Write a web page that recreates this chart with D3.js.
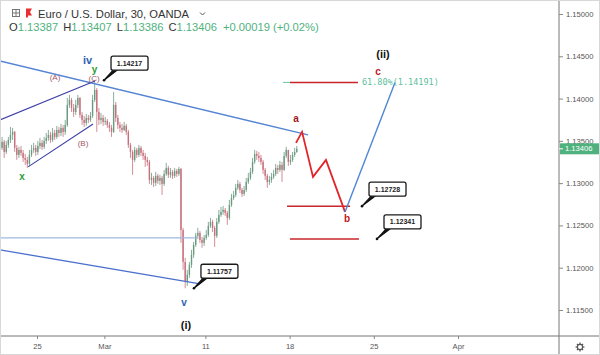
<!DOCTYPE html>
<html>
<head>
<meta charset="utf-8">
<script src="https://cdn.jsdelivr.net/npm/d3@7"></script>
<style>
  body { margin: 0; background: #fff; }
  svg { display: block; font-family: "Liberation Sans", Arial, sans-serif; }
</style>
</head>
<body>
<svg id="chart" width="600" height="355"></svg>
<script>
'use strict';

var firstOpen = 1.13440;
var closes = [
  1.13417, 1.13488, 1.13369, 1.13452, 1.13511, 1.13570, 1.13606, 1.13417, 1.13334, 1.13393,
  1.13358, 1.13298, 1.13275, 1.13228, 1.13334, 1.13393, 1.13417, 1.13369, 1.13440, 1.13476,
  1.13429, 1.13499, 1.13535, 1.13570, 1.13511, 1.13594, 1.13547, 1.13629, 1.13594, 1.13653,
  1.13606, 1.13688, 1.13925, 1.13984, 1.13889, 1.13842, 1.13925, 1.14007, 1.13807, 1.13748,
  1.13712, 1.13771, 1.13748, 1.13795, 1.13984, 1.14102, 1.13842, 1.13748, 1.13771, 1.13724,
  1.13736, 1.13688, 1.13653, 1.13606, 1.13925, 1.13771, 1.13688, 1.13653, 1.13629, 1.13677,
  1.13606, 1.13452, 1.13369, 1.13275, 1.13393, 1.13334, 1.13417, 1.13358, 1.13322, 1.13275,
  1.13251, 1.13038, 1.13062, 1.13003, 1.13086, 1.13027, 1.13062, 1.12991, 1.13109, 1.13180,
  1.13098, 1.13133, 1.13086, 1.13145, 1.13109, 1.13168, 1.12447, 1.12069, 1.11833, 1.11916,
  1.12034, 1.12152, 1.12270, 1.12377, 1.12412, 1.12329, 1.12294, 1.12353, 1.12388, 1.12495,
  1.12542, 1.12471, 1.12377, 1.12542, 1.12625, 1.12660, 1.12684, 1.12648, 1.12589, 1.12743,
  1.12826, 1.12861, 1.12944, 1.12991, 1.12920, 1.12873, 1.12920, 1.13015, 1.13062, 1.13133,
  1.13251, 1.13346, 1.13322, 1.13298, 1.13251, 1.13157, 1.13086, 1.13015, 1.13038, 1.13074,
  1.13109, 1.13180, 1.13157, 1.13216, 1.13157, 1.13322, 1.13393, 1.13251, 1.13275, 1.13334,
  1.13369, 1.13406
];
var highs = [
  1.13511, 1.13547, 1.13511, 1.13499, 1.13547, 1.13665, 1.13653, 1.13617, 1.13452, 1.13429,
  1.13440, 1.13393, 1.13346, 1.13310, 1.13393, 1.13452, 1.13476, 1.13452, 1.13499, 1.13535,
  1.13511, 1.13547, 1.13594, 1.13629, 1.13606, 1.13653, 1.13629, 1.13677, 1.13665, 1.13700,
  1.13688, 1.13748, 1.14007, 1.14043, 1.14007, 1.13936, 1.13984, 1.14043, 1.14019, 1.13842,
  1.13795, 1.13818, 1.13807, 1.13842, 1.14043, 1.14217, 1.14125, 1.13889, 1.13830, 1.13807,
  1.13783, 1.13759, 1.13724, 1.13688, 1.14078, 1.13960, 1.13807, 1.13724, 1.13700, 1.13724,
  1.13700, 1.13629, 1.13476, 1.13393, 1.13429, 1.13417, 1.13452, 1.13440, 1.13393, 1.13358,
  1.13310, 1.13275, 1.13121, 1.13086, 1.13133, 1.13109, 1.13098, 1.13086, 1.13157, 1.13239,
  1.13204, 1.13180, 1.13157, 1.13180, 1.13168, 1.13192, 1.13180, 1.12471, 1.12116, 1.11975,
  1.12069, 1.12211, 1.12305, 1.12412, 1.12471, 1.12435, 1.12365, 1.12388, 1.12447, 1.12542,
  1.12589, 1.12566, 1.12495, 1.12589, 1.12684, 1.12719, 1.12731, 1.12707, 1.12672, 1.12802,
  1.12873, 1.12908, 1.12991, 1.13038, 1.13015, 1.12944, 1.12967, 1.13062, 1.13121, 1.13180,
  1.13298, 1.13393, 1.13381, 1.13369, 1.13334, 1.13275, 1.13180, 1.13109, 1.13086, 1.13121,
  1.13157, 1.13228, 1.13216, 1.13263, 1.13251, 1.13369, 1.13429, 1.13393, 1.13334, 1.13369,
  1.13417, 1.13440
];
var lows = [
  1.13334, 1.13393, 1.13298, 1.13346, 1.13417, 1.13476, 1.13511, 1.13369, 1.13275, 1.13298,
  1.13322, 1.13251, 1.13216, 1.13180, 1.13204, 1.13310, 1.13358, 1.13322, 1.13334, 1.13405,
  1.13393, 1.13405, 1.13464, 1.13499, 1.13476, 1.13488, 1.13511, 1.13523, 1.13547, 1.13558,
  1.13547, 1.13570, 1.13665, 1.13889, 1.13842, 1.13783, 1.13807, 1.13889, 1.13771, 1.13688,
  1.13665, 1.13677, 1.13712, 1.13724, 1.13771, 1.13960, 1.13606, 1.13688, 1.13700, 1.13677,
  1.13688, 1.13653, 1.13606, 1.13547, 1.13594, 1.13724, 1.13641, 1.13606, 1.13594, 1.13617,
  1.13570, 1.13417, 1.13298, 1.13098, 1.13251, 1.13298, 1.13310, 1.13322, 1.13275, 1.13192,
  1.13204, 1.12991, 1.12979, 1.12955, 1.12967, 1.12991, 1.12979, 1.12861, 1.12967, 1.13086,
  1.13062, 1.13062, 1.13050, 1.13062, 1.13074, 1.13086, 1.12294, 1.11975, 1.11757, 1.11785,
  1.11880, 1.11998, 1.12116, 1.12246, 1.12341, 1.12294, 1.12235, 1.12258, 1.12329, 1.12365,
  1.12471, 1.12423, 1.12246, 1.12353, 1.12518, 1.12601, 1.12625, 1.12613, 1.12507, 1.12566,
  1.12719, 1.12802, 1.12837, 1.12920, 1.12884, 1.12837, 1.12849, 1.12896, 1.12991, 1.13038,
  1.13109, 1.13228, 1.13275, 1.13251, 1.13216, 1.13109, 1.13038, 1.12944, 1.12979, 1.13003,
  1.13050, 1.13086, 1.13109, 1.13133, 1.13015, 1.13145, 1.13298, 1.13204, 1.13216, 1.13251,
  1.13310, 1.13358
];
var firstBarDay = -2.2;   // trading days counted from Mon 25 Feb
var barsPerDay = 8;

var priceTicks = [1.115, 1.12, 1.125, 1.13, 1.135, 1.14, 1.145, 1.15];
var dateTickDays = [0, 4, 10, 15, 20, 25];
var dateTickLabels = ['25', 'Mar', '11', '18', '25', 'Apr'];

var lastPrice = 1.13406;
var ohlcLabels = ['O', 'H', 'L', 'C'];
var ohlcValues = ['1.13387', '1.13407', '1.13386', '1.13406'];
var changeText = '+0.00019 (+0.02%)';

// chart drawings, as [trading day, price]
var resistanceLine = [[-2.2, 1.14445], [16.09, 1.13570]];
var wedgeUpper = [[-2.2, 1.13748], [3.44, 1.14208]];
var wedgeLower = [[-0.53, 1.13192], [3.33, 1.13700]];
var supportLine = [[-2.2, 1.12211], [9.68, 1.11809]];
var flatLine = [[-2.2, 1.12353], [9.5, 1.12353]];
var abcPath = [[15.38, 1.13476], [15.74, 1.13606], [16.39, 1.13074], [17.16, 1.13275], [18.29, 1.12660]];
var cPath = [[18.29, 1.12660], [21.26, 1.14191]];
var fibLevel = 1.14191;
var targetLevels = [
  { from: 14.85, to: 18.59, price: 1.12728 },
  { from: 15.02, to: 19.12, price: 1.12341 },
  { from: 15.02, to: 19.06, price: 1.14191 }
];
var calloutPrices = [
  { day: 3.98, price: 1.14217 },
  { day: 9.32, price: 1.11757 },
  { day: 19.30, price: 1.12728 },
  { day: 20.19, price: 1.12341 }
];
var waveLabels = [
  { t: 'iv', day: 3.0, price: 1.14460, color: '#2f62b4', size: 11 },
  { t: 'y', day: 3.42, price: 1.14338, color: '#2c9c3c', size: 10 },
  { t: '(C)', day: 3.39, price: 1.14235, color: '#a35a68', size: 8 },
  { t: '(A)', day: 1.07, price: 1.14251, color: '#a35a68', size: 8 },
  { t: '(B)', day: 2.73, price: 1.13476, color: '#a35a68', size: 8 },
  { t: 'x', day: -0.89, price: 1.13074, color: '#2c9c3c', size: 10 },
  { t: 'v', day: 8.73, price: 1.11585, color: '#2f62b4', size: 10 },
  { t: '(i)', day: 8.85, price: 1.11320, color: '#111', size: 11 },
  { t: 'a', day: 15.38, price: 1.13759, color: '#a01818', size: 10 },
  { t: 'b', day: 18.41, price: 1.12577, color: '#c0161c', size: 10 },
  { t: 'c', day: 20.25, price: 1.14315, color: '#c0161c', size: 10 },
  { t: '(ii)', day: 20.55, price: 1.14527, color: '#111', size: 11 }
];

var svg = d3.select('#chart');
var plotRight = 559, plotBottom = 336;

var x = d3.scaleLinear().domain([0, 25]).range([37, 458]);
var y = d3.scaleLinear().domain([1.115, 1.15]).range([310, 14]);

svg.append('defs').append('clipPath').attr('id', 'plot')
  .append('rect').attr('x', 0).attr('y', 0).attr('width', plotRight).attr('height', plotBottom);

var plot = svg.append('g').attr('clip-path', 'url(#plot)');

var bars = closes.map(function (c, i) {
  return {
    day: firstBarDay + i / barsPerDay,
    o: i ? closes[i - 1] : firstOpen,
    c: c, h: highs[i], l: lows[i]
  };
});
var upColor = '#6a9a80', downColor = '#c7707c';

var candle = plot.append('g').selectAll('g').data(bars).enter().append('g');
candle.append('line')
  .attr('x1', function (d) { return x(d.day); })
  .attr('x2', function (d) { return x(d.day); })
  .attr('y1', function (d) { return y(d.h); })
  .attr('y2', function (d) { return y(d.l); })
  .attr('stroke', function (d) { return d.c >= d.o ? upColor : downColor; })
  .attr('stroke-width', 0.8);
candle.append('rect')
  .attr('x', function (d) { return x(d.day) - 0.7; })
  .attr('width', 1.4)
  .attr('y', function (d) { return y(Math.max(d.o, d.c)); })
  .attr('height', function (d) { return Math.max(0.8, Math.abs(y(d.o) - y(d.c))); })
  .attr('fill', function (d) { return d.c >= d.o ? upColor : downColor; });

var line = d3.line().x(function (p) { return x(p[0]); }).y(function (p) { return y(p[1]); });
function drawLine(points, color, width) {
  plot.append('path').attr('d', line(points)).attr('fill', 'none')
    .attr('stroke', color).attr('stroke-width', width);
}

drawLine(flatLine, '#9db7e2', 1.2);
drawLine(resistanceLine, '#5584d4', 1.4);
drawLine(supportLine, '#4a6fcc', 1.3);
drawLine(wedgeUpper, '#3d3fa6', 1.1);
drawLine(wedgeLower, '#3d3fa6', 1.1);

targetLevels.forEach(function (lv) {
  drawLine([[lv.from, lv.price], [lv.to, lv.price]], '#c8262a', 1.5);
});
drawLine([[14.61, fibLevel], [15.02, fibLevel]], '#6cc4a8', 1);
drawLine(abcPath, '#e0262a', 1.8);
drawLine(cPath, '#4f86d6', 1.4);

plot.append('text')
  .attr('x', x(19.3)).attr('y', y(fibLevel)).attr('dy', '0.35em')
  .attr('font-family', '"DejaVu Sans Mono", monospace').attr('font-size', 8.5)
  .attr('fill', '#5cc0a0').text('61.80%(' + fibLevel.toFixed(5) + ')');

plot.selectAll('text.wave').data(waveLabels).enter().append('text')
  .attr('class', 'wave')
  .attr('x', function (d) { return x(d.day); })
  .attr('y', function (d) { return y(d.price); })
  .attr('dy', '0.35em').attr('text-anchor', 'middle')
  .attr('font-weight', function (d) { return d.size > 8 ? 'bold' : 'normal'; })
  .attr('font-size', function (d) { return d.size; })
  .attr('fill', function (d) { return d.color; })
  .text(function (d) { return d.t; });

// price callouts
var callout = plot.selectAll('g.callout').data(calloutPrices).enter().append('g').attr('class', 'callout')
  .attr('transform', function (d) { return 'translate(' + x(d.day) + ',' + y(d.price) + ')'; });
callout.append('path').attr('d', 'M0,0 L10,-11 L13,-10 Z').attr('fill', '#111').attr('stroke', '#111').attr('stroke-width', 1.2);
callout.append('circle').attr('r', 1.3).attr('fill', '#111');
callout.append('rect').attr('x', 7).attr('y', -24).attr('width', 37).attr('height', 14).attr('rx', 2)
  .attr('fill', '#fff').attr('stroke', '#1a1a1a').attr('stroke-width', 1.3);
callout.append('text').attr('x', 25.5).attr('y', -17).attr('dy', '0.35em').attr('text-anchor', 'middle')
  .attr('font-size', 7).attr('font-weight', 'bold').attr('fill', '#222')
  .text(function (d) { return d.price.toFixed(5); });

// axes
var yAxis = d3.axisRight(y).tickValues(priceTicks).tickSize(4).tickPadding(3)
  .tickFormat(function (d) { return d.toFixed(5); });
var yg = svg.append('g').attr('transform', 'translate(' + plotRight + ',0)').call(yAxis);
yg.select('.domain').attr('d', 'M0,0V355').attr('stroke', '#777');
yg.selectAll('.tick line').attr('stroke', '#888');
yg.selectAll('.tick text').attr('font-size', 7.6).attr('fill', '#555').attr('font-family', '"Liberation Sans", Arial, sans-serif');

var xAxis = d3.axisBottom(x).tickValues(dateTickDays).tickSize(3).tickPadding(5)
  .tickFormat(function (d, i) { return dateTickLabels[i]; });
var xg = svg.append('g').attr('transform', 'translate(0,' + plotBottom + ')').call(xAxis);
xg.select('.domain').attr('d', 'M0,0H600').attr('stroke', '#777');
xg.selectAll('.tick line').attr('stroke', '#888');
xg.selectAll('.tick text').attr('font-size', 7.6).attr('fill', '#555').attr('font-family', '"Liberation Sans", Arial, sans-serif');

// last price tag
var tag = svg.append('g').attr('transform', 'translate(' + plotRight + ',' + y(lastPrice) + ')');
tag.append('rect').attr('x', 1).attr('y', -5.5).attr('width', 41).attr('height', 11).attr('fill', '#4fb27e');
tag.append('line').attr('x1', 0).attr('x2', 4).attr('stroke', '#fff');
tag.append('text').attr('x', 6).attr('dy', '0.35em').attr('font-size', 7.6).attr('fill', '#fff').text(lastPrice.toFixed(5));

// settings gear
var gear = svg.append('g').attr('transform', 'translate(580,347)').attr('stroke', '#555').attr('fill', 'none');
gear.append('circle').attr('r', 2.6).attr('stroke-width', 1.1);
d3.range(8).forEach(function (k) {
  var a = k * Math.PI / 4;
  gear.append('line').attr('x1', Math.cos(a) * 2.6).attr('y1', Math.sin(a) * 2.6)
    .attr('x2', Math.cos(a) * 4.4).attr('y2', Math.sin(a) * 4.4).attr('stroke-width', 1.3);
});

// header
var head = svg.append('g').attr('font-size', 11.2).attr('fill', '#333');
head.append('rect').attr('x', 12.5).attr('y', 9.5).attr('width', 7).attr('height', 7).attr('fill', 'none').attr('stroke', '#777');
head.append('path').attr('d', 'M16,9.5V16.5M12.5,13H19.5').attr('stroke', '#777');
head.append('path').attr('d', 'M26,8.5H32L30,12L32,15.5H28V17.5H26Z').attr('fill', '#e8312f');
head.append('text').attr('x', 38).attr('y', 17.5).text('Euro / U.S. Dollar, 30, OANDA');
head.append('path').attr('d', 'M200,12.5L202.5,15L205,12.5').attr('fill', 'none').attr('stroke', '#555');

var ohlc = head.append('text').attr('x', 9).attr('y', 31);
ohlcLabels.forEach(function (lab, i) {
  ohlc.append('tspan').attr('fill', '#333').attr('dx', i ? 5 : 0).text(lab);
  ohlc.append('tspan').attr('fill', '#4fb27e').text(ohlcValues[i]);
});
ohlc.append('tspan').attr('fill', '#4fb27e').attr('dx', 6).text(changeText);

svg.append('rect').attr('x', 0.5).attr('y', 0.5).attr('width', 599).attr('height', 354)
  .attr('fill', 'none').attr('stroke', '#d8d8d8');
</script>
</body>
</html>
